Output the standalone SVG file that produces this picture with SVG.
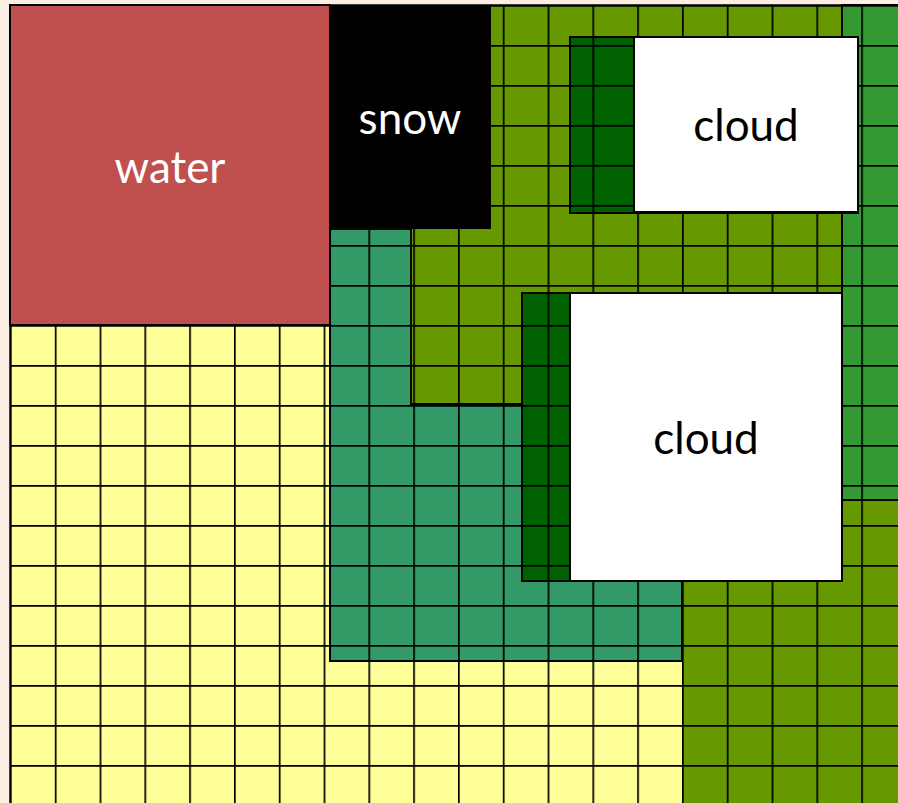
<svg xmlns="http://www.w3.org/2000/svg" width="898" height="803" viewBox="0 0 898 803">
<style>
.ln{stroke:#000;stroke-width:1.5;fill:none}
.bd{stroke:#000;stroke-width:2}
.lbl{font-family:Lato,"Open Sans","Liberation Sans",sans-serif;font-size:44px;text-anchor:middle}
</style>
<defs>
<pattern id="grid" x="10" y="5" width="44.8" height="40" patternUnits="userSpaceOnUse">
<path d="M0,0 V40 M0,0 H44.8" stroke="#000" stroke-width="3.4" fill="none"/>
</pattern>
</defs>
<rect x="0" y="0" width="898" height="803" fill="#FCEEE2"/>
<g id="olive"><rect x="330" y="5" width="570" height="800" fill="#669900"/></g>
<g id="yellow"><polygon points="10,325 330,325 330,661 682,661 682,805 10,805" fill="#FFFF99"/></g>
<g id="teal"><polygon points="330,229 411,229 411,404 682,404 682,661 330,661" fill="#339966" class="bd"/></g>
<g id="green"><rect x="842" y="5" width="60" height="495" fill="#339933" class="bd"/></g>
<g id="dark1"><rect x="570" y="37" width="288" height="176" fill="#006100" class="bd"/></g>
<g id="dark2"><rect x="522" y="293" width="320" height="288" fill="#006100" class="bd"/></g>
<g id="gridlines"><rect x="10" y="5" width="890" height="800" fill="url(#grid)"/></g>
<g id="water"><rect x="10" y="5" width="320" height="320" fill="#C0504D" class="bd"/>
<text class="lbl" x="170" y="183" fill="#FFFFFF">water</text></g>
<g id="snow"><rect x="329" y="5" width="162" height="224" fill="#000"/>
<text class="lbl" x="410" y="134" fill="#FFFFFF">snow</text></g>
<g id="cloud1"><rect x="634" y="37" width="224" height="175" fill="#FFFFFF" class="bd"/>
<text class="lbl" x="746" y="141" fill="#000">cloud</text></g>
<g id="cloud2"><rect x="570" y="293" width="272" height="288" fill="#FFFFFF" class="bd"/>
<text class="lbl" x="706" y="454" fill="#000">cloud</text></g>
<path d="M10,803 V5 H898" class="ln" stroke-width="2"/>
</svg>
